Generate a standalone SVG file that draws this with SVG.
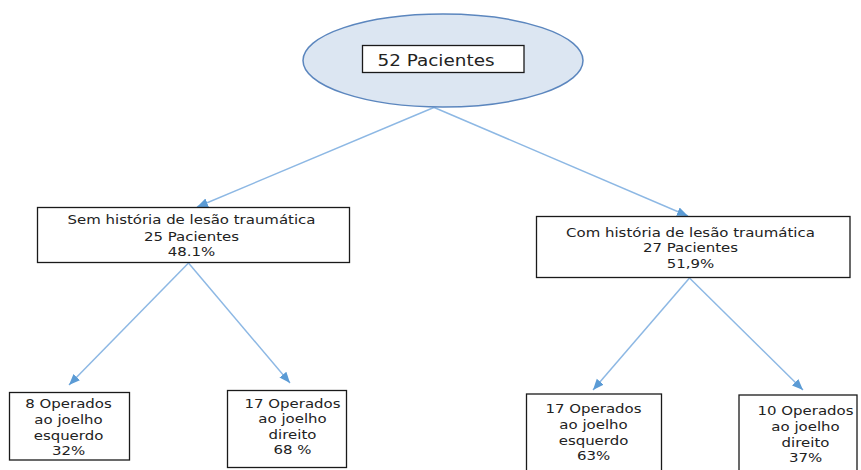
<svg xmlns="http://www.w3.org/2000/svg" width="861" height="470" viewBox="0 0 861 470">
<style>
.box{fill:#ffffff;stroke:#1a1a1a;stroke-width:1.3}
.t{font-family:"DejaVu Sans",Verdana,sans-serif;font-size:13px;fill:#222222;text-anchor:middle}
.big{font-size:16px}
.edge{stroke:#8DB8E4;stroke-width:1.5;fill:none;marker-end:url(#arr)}
</style>
<defs>
<marker id="arr" markerUnits="userSpaceOnUse" markerWidth="12" markerHeight="10" refX="11" refY="4.5" orient="auto">
<path d="M0,0 L11,4.5 L0,9 z" fill="#5B9BD5"/>
</marker>
</defs>
<rect width="861" height="470" fill="#ffffff"/>
<g id="connectors">
<line class="edge" x1="435" y1="107" x2="197" y2="207"/>
<line class="edge" x1="433" y1="107" x2="688" y2="216"/>
<line class="edge" x1="188.5" y1="263" x2="69" y2="385"/>
<line class="edge" x1="188.5" y1="263" x2="290" y2="383"/>
<line class="edge" x1="689.5" y1="278" x2="593" y2="390"/>
<line class="edge" x1="689.5" y1="278" x2="803" y2="390"/>
</g>
<g id="root">
<ellipse cx="443" cy="60.5" rx="140" ry="46.5" fill="#DCE6F2" stroke="#5B86BE" stroke-width="1.5"/>
<rect class="box" x="362.5" y="45.5" width="161.5" height="27"/>
<text class="t big" transform="translate(436,65.5) scale(1.15,1)">52 Pacientes</text>
</g>
<g id="sem">
<rect class="box" x="37.5" y="207.5" width="312" height="55"/>
<text class="t" transform="translate(191.5,224) scale(1.15,1)">Sem história de lesão traumática</text>
<text class="t" transform="translate(191.5,240.5) scale(1.15,1)">25 Pacientes</text>
<text class="t" transform="translate(191.5,256) scale(1.15,1)">48.1%</text>
</g>
<g id="com">
<rect class="box" x="536.5" y="216.5" width="313.5" height="61"/>
<text class="t" transform="translate(690.5,236.5) scale(1.15,1)">Com história de lesão traumática</text>
<text class="t" transform="translate(690.5,252.3) scale(1.15,1)">27 Pacientes</text>
<text class="t" transform="translate(690.5,268) scale(1.15,1)">51,9%</text>
</g>
<g id="sem-esq">
<rect class="box" x="9.5" y="392.5" width="120" height="67.5"/>
<text class="t" transform="translate(68.5,408) scale(1.15,1)">8 Operados</text>
<text class="t" transform="translate(68.5,424) scale(1.15,1)">ao joelho</text>
<text class="t" transform="translate(68.5,439.5) scale(1.15,1)">esquerdo</text>
<text class="t" transform="translate(68.5,455) scale(1.15,1)">32%</text>
</g>
<g id="sem-dir">
<rect class="box" x="227.5" y="390.5" width="119" height="77"/>
<text class="t" transform="translate(292.5,407.5) scale(1.15,1)">17 Operados</text>
<text class="t" transform="translate(292.5,423) scale(1.15,1)">ao joelho</text>
<text class="t" transform="translate(292.5,438.5) scale(1.15,1)">direito</text>
<text class="t" transform="translate(292.5,454) scale(1.15,1)">68 %</text>
</g>
<g id="com-esq">
<rect class="box" x="526.5" y="394" width="135" height="85"/>
<text class="t" transform="translate(593.5,413) scale(1.15,1)">17 Operados</text>
<text class="t" transform="translate(593.5,429) scale(1.15,1)">ao joelho</text>
<text class="t" transform="translate(593.5,444.5) scale(1.15,1)">esquerdo</text>
<text class="t" transform="translate(593.5,460) scale(1.15,1)">63%</text>
</g>
<g id="com-dir">
<rect class="box" x="739" y="395" width="118" height="85"/>
<text class="t" transform="translate(805.5,415) scale(1.15,1)">10 Operados</text>
<text class="t" transform="translate(805.5,431) scale(1.15,1)">ao joelho</text>
<text class="t" transform="translate(805.5,446.5) scale(1.15,1)">direito</text>
<text class="t" transform="translate(805.5,462) scale(1.15,1)">37%</text>
</g>
</svg>
